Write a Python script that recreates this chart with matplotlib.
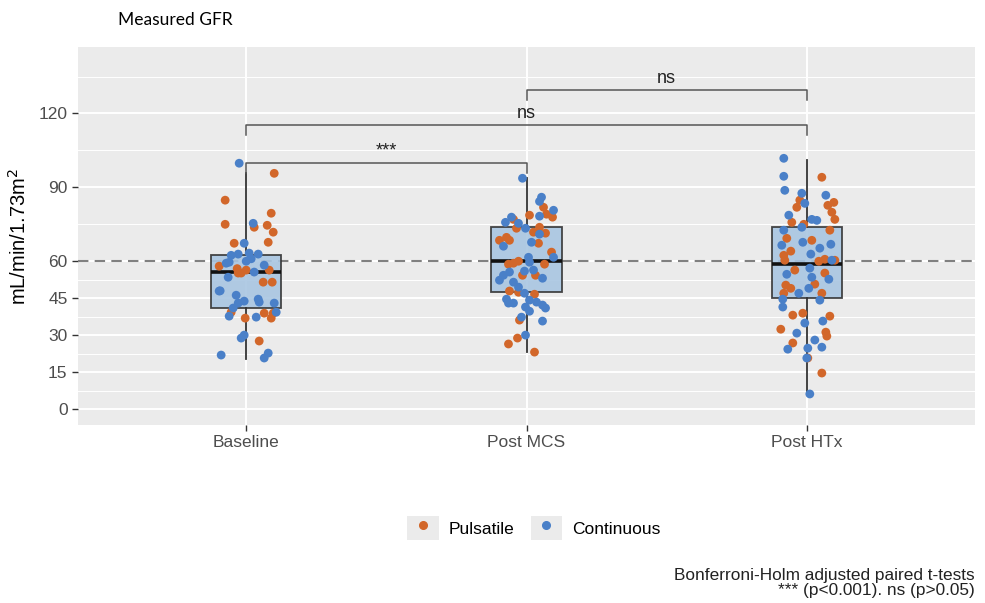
import matplotlib
matplotlib.use("Agg")
import matplotlib.pyplot as plt
from matplotlib.patches import Rectangle
from matplotlib.lines import Line2D

plt.rcParams['font.family'] = ['Liberation Sans', 'DejaVu Sans']

groups = ["Baseline", "Post MCS", "Post HTx"]

# jittered points: (x offset from group centre in px, value)
base_puls_dx = [28, -21, 25, -21, 8, 21, 27, -12, 22, -27, 23, 0, -8, -5, 17, 26, -15, -1, 18, 27, 25, 13, -9]
base_puls_y = [95.7, 84.8, 79.5, 75.0, 73.8, 74.6, 71.8, 67.3, 67.7, 58.0, 56.4, 56.4, 55.2, 55.2, 51.5, 51.5,
               39.3, 36.9, 38.9, 38.9, 36.9, 27.6, 57.0]
base_cont_dx = [-7, 7, -2, -15, -8, 3, 12, -20, -17, 18, 8, -18, -27, -10, -2, -8, 12, 13, 28, -13, -17, 10,
                30, -2, -5, -25, 22, 18, 5, 0, -26]
base_cont_y = [99.8, 75.4, 67.3, 62.4, 62.9, 63.3, 62.9, 59.2, 59.6, 58.4, 55.6, 53.5, 47.9, 46.2, 43.8, 43.0,
               44.6, 43.4, 43.0, 41.0, 37.7, 37.3, 39.3, 30.0, 28.8, 21.9, 22.7, 20.7, 61.0, 60.0, 48.0]

mcs_puls_dx = [17, 3, 20, 26, -13, -10, 13, 19, -20, 7, -17, 12, -27, 25, -8, -13, -18, 18, -4, 9, -17, -8,
               8, -7, -9, -18, 8]
mcs_puls_y = [81.9, 78.7, 79.1, 77.9, 77.0, 73.4, 73.8, 71.4, 69.7, 71.8, 68.5, 67.3, 68.5, 63.7, 60.0, 59.2,
              58.8, 58.8, 54.3, 54.3, 47.9, 47.4, 46.6, 36.1, 28.8, 26.4, 23.1]
mcs_cont_dx = [-4, 15, 13, 27, 13, -15, -21, -8, -1, 13, -23, 5, 27, 2, 3, -17, -2, 7, -23, -27, -13, 16, -8,
               -2, -20, 3, -18, -13, 10, 16, 19, -1, 3, -5, 16, -1]
mcs_cont_y = [93.7, 86.0, 84.3, 80.7, 78.3, 77.9, 75.8, 75.4, 73.4, 71.0, 66.1, 67.7, 61.6, 61.6, 59.6, 55.6,
              56.0, 56.4, 54.3, 52.3, 51.5, 53.1, 49.5, 47.0, 44.6, 44.2, 43.0, 43.0, 43.4, 42.2, 41.0, 41.4,
              39.7, 37.3, 35.7, 30.0]

htx_puls_dx = [15, -7, 27, -10, 21, 25, 28, -15, -3, 23, -20, 5, -16, -23, -22, 12, 18, 28, -12, 18, 8, -21,
               -16, -23, 15, -14, -4, 23, -26, 19, 20, -14, 1, 15]
htx_puls_y = [94.1, 84.8, 83.9, 81.9, 82.7, 79.9, 77.0, 75.8, 75.0, 72.6, 69.3, 68.5, 64.1, 62.4, 60.4, 60.0,
              60.8, 60.4, 56.4, 55.2, 50.7, 50.3, 49.0, 47.0, 47.0, 38.1, 38.9, 37.7, 32.4, 31.2, 29.6, 26.8,
              20.7, 14.6]
htx_cont_dx = [-23, -23, -22, -5, 19, -2, -18, 5, 10, -23, -5, -4, -25, 24, 13, 4, 25, 3, -20, 22, 5, -8, 2,
               13, -24, -24, -2, 16, -10, 8, -19, 1, 15, 0, 3]
htx_cont_y = [101.8, 94.5, 88.8, 87.6, 86.8, 83.5, 78.7, 77.0, 76.6, 72.6, 73.8, 67.7, 66.5, 66.9, 65.3, 62.9,
              60.4, 57.2, 54.7, 52.7, 53.5, 47.0, 49.0, 44.2, 44.6, 41.4, 34.9, 35.7, 30.8, 28.0, 24.3, 24.7,
              25.1, 20.7, 6.1]

# box statistics
box_q1 = [41.0, 47.4, 45.0]
box_med = [55.8, 60.0, 58.8]
box_q3 = [62.5, 73.8, 73.8]
box_lo = [20.3, 23.0, 6.5]
box_hi = [95.7, 93.7, 101.0]

# significance brackets: (from group, to group, height, label)
brk_from = [1, 1, 2]
brk_to = [2, 3, 3]
brk_y = [99.8, 115.2, 129.4]
brk_lab = ["***", "ns", "ns"]

ORANGE = "#D2672A"
BLUE = "#4A80C8"
PX = 280.0  # pixels per category unit in the reference

fig = plt.figure(figsize=(9.85, 6.03), dpi=100)
ax = fig.add_axes([78 / 985, 1 - 425 / 603, (975 - 78) / 985, (425 - 47) / 603])
ax.set_facecolor("#EBEBEB")
for s in ax.spines.values():
    s.set_visible(False)

ax.set_xlim(0.4, 3.6)
ax.set_ylim(-6.5, 147)
ax.set_yticks([0, 15, 30, 45, 60, 90, 120])
ax.set_yticks([7.5, 22.5, 37.5, 52.5, 75, 105, 135], minor=True)
ax.set_xticks([1, 2, 3])
ax.set_xticklabels(groups)
ax.grid(True, which="major", color="white", lw=1.4)
ax.grid(True, which="minor", axis="y", color="white", lw=0.7)
ax.set_axisbelow(True)
ax.tick_params(axis="both", which="major", colors="#333333", length=4, width=1,
               labelcolor="#4D4D4D", labelsize=12.5)
ax.tick_params(axis="y", which="minor", length=0)
ax.set_ylabel("mL/min/1.73m$^2$", fontsize=14.5, labelpad=6)

ax.axhline(60, color="#808080", lw=1.5, ls=(0, (5, 3)), zorder=1.5)

stats = []
for i in range(3):
    stats.append(dict(med=box_med[i], q1=box_q1[i], q3=box_q3[i],
                      whislo=box_lo[i], whishi=box_hi[i], fliers=[]))
ax.bxp(stats, positions=[1, 2, 3], widths=0.25, showcaps=False, patch_artist=True,
       boxprops=dict(facecolor="#A9C6E2", edgecolor="#333333", lw=1.3, alpha=0.9),
       medianprops=dict(color="#111111", lw=2.6),
       whiskerprops=dict(color="#333333", lw=1.3), manage_ticks=False, zorder=2)

puls = [(base_puls_dx, base_puls_y), (mcs_puls_dx, mcs_puls_y), (htx_puls_dx, htx_puls_y)]
cont = [(base_cont_dx, base_cont_y), (mcs_cont_dx, mcs_cont_y), (htx_cont_dx, htx_cont_y)]
for i in range(3):
    for (dx, y), col in [(puls[i], ORANGE), (cont[i], BLUE)]:
        xs = [i + 1 + d / PX for d in dx]
        ax.scatter(xs, y, s=40, color=col, edgecolors="none", zorder=3)

for a, b, h, lab in zip(brk_from, brk_to, brk_y, brk_lab):
    ax.plot([a, a, b, b], [h - 4, h, h, h - 4], color="#555555", lw=1.1, zorder=2)
    ax.text((a + b) / 2, h + 1.4, lab, ha="center", va="bottom", fontsize=13, color="#222222")

fig.text(118 / 985, 1 - 20 / 603, "Measured GFR", fontsize=12.5, family="Lato", va="center", ha="left")

handles = []
for col in [ORANGE, BLUE]:
    bg = Rectangle((0, 0), 1, 1, facecolor="#EBEBEB", edgecolor="none")
    dot = Line2D([], [], marker="o", ls="none", color=col, markersize=5.5)
    handles.append((bg, dot))
fig.legend(handles, ["Pulsatile", "Continuous"], loc="center", bbox_to_anchor=(534 / 985, 1 - 528 / 603),
           ncol=2, frameon=False, fontsize=12.5, handlelength=1.8, handleheight=1.8,
           handletextpad=0.6, columnspacing=0.9)

fig.text(975 / 985, 1 - 583 / 603, "Bonferroni-Holm adjusted paired t-tests\n*** (p<0.001). ns (p>0.05)",
         ha="right", va="center", fontsize=12.4, color="#222222", linespacing=1.05)

fig.savefig("out.png", dpi=100)
